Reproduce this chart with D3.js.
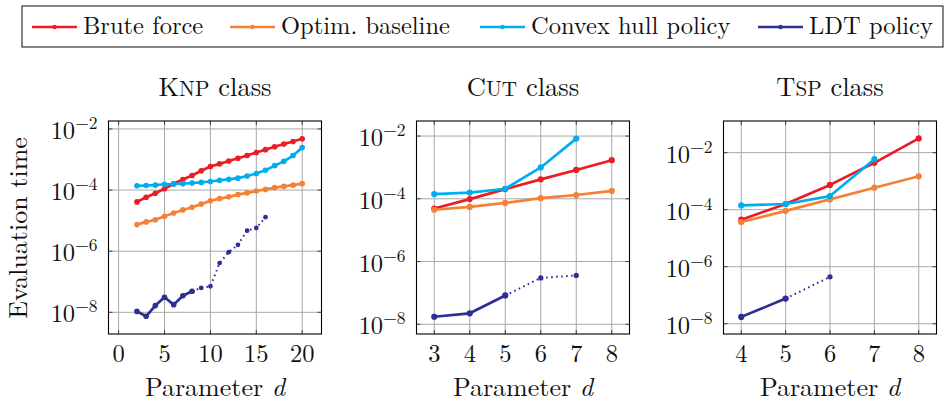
<!DOCTYPE html>
<html><head><meta charset="utf-8">
<script src="https://cdn.jsdelivr.net/npm/d3@7/dist/d3.min.js"></script>
<style>
html,body{margin:0;padding:0;background:#fff;}
</style></head>
<body>
<svg id="chart" width="946" height="403"></svg>
<script>
// ---------- data ----------
const seriesNames = ["Brute force", "Optim. baseline", "Convex hull policy", "LDT policy"];
const seriesColors = ["#ED1B23", "#F58137", "#00AEEF", "#2D2F92"];

const knpD = [2,3,4,5,6,7,8,9,10,11,12,13,14,15,16,17,18,19,20];
const knpBrute = [4.1e-5,5.8e-5,7.9e-5,1.1e-4,1.6e-4,2.2e-4,3.0e-4,4.3e-4,5.9e-4,7.2e-4,8.9e-4,1.1e-3,1.35e-3,1.7e-3,2.1e-3,2.6e-3,3.2e-3,3.9e-3,4.8e-3];
const knpOptim = [7.4e-6,9.1e-6,1.07e-5,1.38e-5,1.78e-5,2.24e-5,2.75e-5,3.47e-5,4.47e-5,5.25e-5,6.0e-5,7.1e-5,8.1e-5,9.3e-5,1.05e-4,1.2e-4,1.32e-4,1.45e-4,1.62e-4];
const knpConvex = [1.38e-4,1.41e-4,1.45e-4,1.55e-4,1.58e-4,1.62e-4,1.70e-4,1.78e-4,1.91e-4,2.09e-4,2.24e-4,2.45e-4,2.88e-4,3.47e-4,4.47e-4,6.3e-4,8.7e-4,1.35e-3,2.45e-3];
const knpLdtD = [2,3,4,5,6,7,8,9,10,11,12,13,14,15,16];
const knpLdt = [1.07e-8,7.4e-9,1.66e-8,3.1e-8,1.78e-8,3.5e-8,4.9e-8,6.3e-8,7.1e-8,4.1e-7,9.3e-7,1.62e-6,4.7e-6,5.75e-6,1.29e-5];
const knpLdtSolidUntil = 8;

const cutD = [3,4,5,6,7,8];
const cutBrute = [4.9e-5,9.8e-5,2.04e-4,4.17e-4,8.3e-4,1.7e-3];
const cutOptim = [4.47e-5,5.5e-5,7.4e-5,1.05e-4,1.32e-4,1.78e-4];
const cutConvexD = [3,4,5,6,7];
const cutConvex = [1.41e-4,1.58e-4,2.09e-4,1.0e-3,8.3e-3];
const cutLdtD = [3,4,5,6,7];
const cutLdt = [1.74e-8,2.24e-8,8.3e-8,3.0e-7,3.6e-7];
const cutLdtSolidUntil = 5;

const tspD = [4,5,6,7,8];
const tspBrute = [4.47e-5,1.58e-4,7.4e-4,4.4e-3,3.16e-2];
const tspOptim = [3.7e-5,9.1e-5,2.29e-4,5.9e-4,1.48e-3];
const tspConvexD = [4,5,6,7];
const tspConvex = [1.41e-4,1.58e-4,3.0e-4,5.9e-3];
const tspLdtD = [4,5,6];
const tspLdt = [1.74e-8,7.6e-8,4.4e-7];
const tspLdtSolidUntil = 5;

const knpXTicks = [0,5,10,15,20];
const cutXTicks = [3,4,5,6,7,8];
const tspXTicks = [4,5,6,7,8];
const yTickExps = [-2,-4,-6,-8];

// titles: [capital initial, small-caps rest, suffix]
const panelTitles = [["K","NP"," class"],["C","UT"," class"],["T","SP"," class"]];
const xLabel = "Parameter ";
const yLabel = "Evaluation time";

// ---------- layout ----------
const FONT = "'Latin Modern Roman','CMU Serif','Liberation Serif',serif";
const svg = d3.select("#chart");
const root = svg.append("g").attr("font-family", FONT);
const plotTop = 121, plotBottom = 334, pw = 213;
const LABEL_FS = 26.5, TICK_FS = 24.5;
const panels = [
  {left:108.5, title:panelTitles[0], xDom:[-1.1,22.1], yDom:[-8.71,-1.74], xTicks:knpXTicks,
   series:[[knpD,knpBrute],[knpD,knpOptim],[knpD,knpConvex],[knpLdtD,knpLdt]], solidUntil:knpLdtSolidUntil, r:2.8},
  {left:416.5, title:panelTitles[1], xDom:[2.5,8.5], yDom:[-8.31,-1.52], xTicks:cutXTicks,
   series:[[cutD,cutBrute],[cutD,cutOptim],[cutConvexD,cutConvex],[cutLdtD,cutLdt]], solidUntil:cutLdtSolidUntil, r:3.1},
  {left:723.5, title:panelTitles[2], xDom:[3.6,8.4], yDom:[-8.36,-0.89], xTicks:tspXTicks,
   series:[[tspD,tspBrute],[tspD,tspOptim],[tspConvexD,tspConvex],[tspLdtD,tspLdt]], solidUntil:tspLdtSolidUntil, r:3.1}
];

panels.forEach((p, pi) => {
  const x = d3.scaleLinear().domain(p.xDom).range([p.left, p.left + pw]);
  const y = d3.scaleLog().domain([Math.pow(10,p.yDom[0]), Math.pow(10,p.yDom[1])]).range([plotBottom, plotTop]);
  const g = root.append("g");
  const yTicks = yTickExps.map(e => Math.pow(10,e));

  // grid
  g.selectAll(".gx").data(p.xTicks).enter().append("line")
    .attr("x1", d=>x(d)).attr("x2", d=>x(d)).attr("y1", plotTop).attr("y2", plotBottom)
    .attr("stroke", "#a8a8a8").attr("stroke-width", 1);
  g.selectAll(".gy").data(yTicks).enter().append("line")
    .attr("y1", d=>y(d)).attr("y2", d=>y(d)).attr("x1", p.left).attr("x2", p.left+pw)
    .attr("stroke", "#a8a8a8").attr("stroke-width", 1);
  // inner ticks on all sides
  const tl = 4;
  p.xTicks.forEach(d => {
    g.append("line").attr("x1",x(d)).attr("x2",x(d)).attr("y1",plotBottom).attr("y2",plotBottom-tl).attr("stroke","#333").attr("stroke-width",0.9);
    g.append("line").attr("x1",x(d)).attr("x2",x(d)).attr("y1",plotTop).attr("y2",plotTop+tl).attr("stroke","#333").attr("stroke-width",0.9);
  });
  yTicks.forEach(d => {
    g.append("line").attr("y1",y(d)).attr("y2",y(d)).attr("x1",p.left).attr("x2",p.left+tl).attr("stroke","#333").attr("stroke-width",0.9);
    g.append("line").attr("y1",y(d)).attr("y2",y(d)).attr("x1",p.left+pw).attr("x2",p.left+pw-tl).attr("stroke","#333").attr("stroke-width",0.9);
  });

  // series
  p.series.forEach((s, si) => {
    const pts = s[0].map((d,i)=>[d, s[1][i]]);
    const color = seriesColors[si];
    const line = d3.line().x(d=>x(d[0])).y(d=>y(d[1]));
    if (si === 3) {
      const solid = pts.filter(d=>d[0] <= p.solidUntil);
      const dotted = pts.filter(d=>d[0] >= p.solidUntil);
      g.append("path").attr("d", line(solid)).attr("fill","none").attr("stroke",color)
        .attr("stroke-width",2.7).attr("stroke-linejoin","round");
      g.append("path").attr("d", line(dotted)).attr("fill","none").attr("stroke",color)
        .attr("stroke-width",2).attr("stroke-dasharray","1.6,3.4").attr("stroke-linecap","butt");
      g.selectAll(null).data(solid).enter().append("circle")
        .attr("cx",d=>x(d[0])).attr("cy",d=>y(d[1])).attr("r",p.r).attr("fill",color);
      g.selectAll(null).data(dotted).enter().append("circle")
        .attr("cx",d=>x(d[0])).attr("cy",d=>y(d[1])).attr("r",p.r*0.85).attr("fill",color);
    } else {
      g.append("path").attr("d", line(pts)).attr("fill","none").attr("stroke",color)
        .attr("stroke-width",2.7).attr("stroke-linejoin","round");
      g.selectAll(null).data(pts).enter().append("circle")
        .attr("cx",d=>x(d[0])).attr("cy",d=>y(d[1])).attr("r",p.r).attr("fill",color);
    }
  });

  // frame
  g.append("rect").attr("x",p.left).attr("y",plotTop).attr("width",pw).attr("height",plotBottom-plotTop)
    .attr("fill","none").attr("stroke","#000").attr("stroke-width",1.1);

  // x tick labels
  g.selectAll(".xl").data(p.xTicks).enter().append("text")
    .attr("x", d=>x(d)).attr("y", 362).attr("text-anchor","middle")
    .attr("font-size", TICK_FS).attr("fill","#111").text(d=>d);
  // y tick labels
  yTicks.forEach((d,i) => {
    const t = g.append("text").attr("x", p.left-11).attr("y", y(d)+10)
      .attr("text-anchor","end").attr("font-size",TICK_FS).attr("fill","#111");
    t.append("tspan").text("10");
    t.append("tspan").attr("dy",-10).attr("font-size",17.5).text("\u2212" + Math.abs(yTickExps[i]));
  });
  // x label
  const xl = g.append("text").attr("x", p.left+pw/2).attr("y", 395.5).attr("text-anchor","middle")
    .attr("font-size",26).attr("fill","#111");
  xl.append("tspan").text(xLabel);
  xl.append("tspan").attr("font-style","italic").text("d");
  // title (small caps drawn as reduced capitals)
  const tt = g.append("text").attr("x", p.left+pw/2).attr("y", 96).attr("text-anchor","middle")
    .attr("font-size",LABEL_FS).attr("fill","#111");
  tt.append("tspan").text(p.title[0]);
  tt.append("tspan").attr("font-size", LABEL_FS*0.8).text(p.title[1]);
  tt.append("tspan").text(p.title[2]);
});

// y axis label
root.append("text").attr("transform","translate(27,228) rotate(-90)").attr("text-anchor","middle")
  .attr("font-size",26).attr("fill","#111").text(yLabel);

// legend
const lg = root.append("g");
lg.append("rect").attr("x",22).attr("y",6).attr("width",921).attr("height",41)
  .attr("fill","#fff").attr("stroke","#222").attr("stroke-width",1.1);
const legendX = [32, 230, 480, 758];
seriesNames.forEach((n,i) => {
  const x0 = legendX[i];
  lg.append("line").attr("x1",x0).attr("x2",x0+45).attr("y1",27).attr("y2",27)
    .attr("stroke",seriesColors[i]).attr("stroke-width",2.4);
  lg.append("circle").attr("cx",x0+22.5).attr("cy",27).attr("r",2.2).attr("fill",seriesColors[i]);
  lg.append("text").attr("x",x0+51).attr("y",34).attr("font-size",TICK_FS).attr("fill","#111").text(n);
});
</script>
</body></html>
